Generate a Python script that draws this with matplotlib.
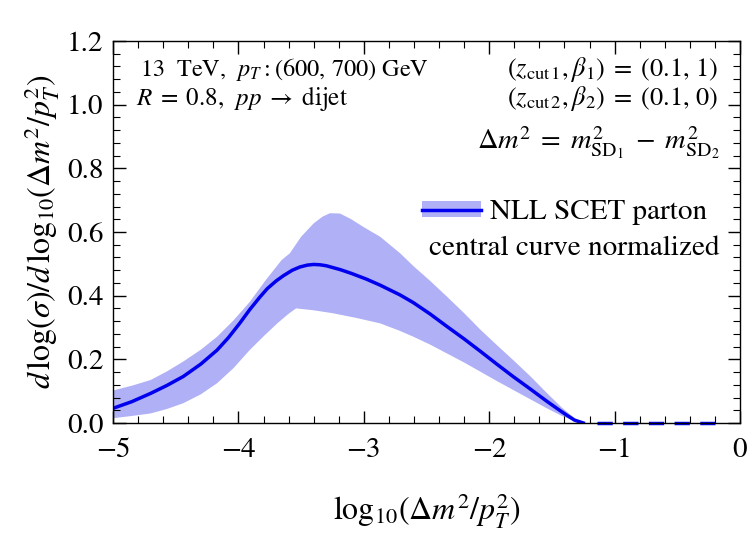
"""NLL SCET parton distribution of the soft-drop mass difference"""
import matplotlib
matplotlib.use("Agg")
import matplotlib.pyplot as plt
from matplotlib.patches import Patch
from matplotlib.lines import Line2D
from matplotlib.ticker import MultipleLocator, FormatStrFormatter

plt.rcParams["font.family"] = "STIXGeneral"
plt.rcParams["mathtext.fontset"] = "stix"

# central curve
x_c = [-5.0, -4.85, -4.70, -4.57, -4.44, -4.30, -4.17, -4.08, -3.99, -3.91,
       -3.83, -3.77, -3.70, -3.64, -3.57, -3.51, -3.45, -3.40, -3.35, -3.30,
       -3.19, -3.10, -2.98, -2.87, -2.71, -2.605, -2.47, -2.34, -2.20, -2.07,
       -1.94, -1.81, -1.67, -1.54, -1.45, -1.38, -1.32, -1.25]
y_c = [0.046, 0.067, 0.093, 0.118, 0.146, 0.185, 0.229, 0.268, 0.313, 0.356,
       0.395, 0.422, 0.446, 0.463, 0.480, 0.490, 0.496, 0.498, 0.497, 0.494,
       0.482, 0.470, 0.452, 0.433, 0.402, 0.378, 0.342, 0.304, 0.264, 0.225,
       0.185, 0.146, 0.106, 0.068, 0.043, 0.024, 0.009, 0.0]

# uncertainty band edges
x_up = [-5.0, -4.85, -4.70, -4.57, -4.44, -4.30, -4.17, -4.04, -3.91, -3.78,
        -3.655, -3.59, -3.50, -3.40, -3.33, -3.27, -3.19, -3.10, -3.0, -2.87,
        -2.71, -2.605, -2.47, -2.34, -2.20, -2.07, -1.94, -1.81, -1.67, -1.54,
        -1.42, -1.30, -1.25]
y_up = [0.102, 0.117, 0.135, 0.162, 0.193, 0.230, 0.271, 0.322, 0.380, 0.450,
        0.512, 0.533, 0.585, 0.627, 0.648, 0.659, 0.658, 0.640, 0.615, 0.585,
        0.533, 0.493, 0.446, 0.398, 0.345, 0.293, 0.245, 0.198, 0.146, 0.094,
        0.048, 0.009, 0.0]
x_lo = [-5.0, -4.85, -4.70, -4.57, -4.44, -4.30, -4.17, -4.04, -3.91, -3.80,
        -3.69, -3.60, -3.54, -3.40, -3.25, -3.06, -2.87, -2.71, -2.605, -2.47,
        -2.34, -2.20, -2.07, -1.94, -1.81, -1.67, -1.54, -1.42, -1.30, -1.25]
y_lo = [0.015, 0.022, 0.030, 0.044, 0.062, 0.090, 0.125, 0.172, 0.229, 0.272,
        0.313, 0.343, 0.360, 0.354, 0.345, 0.330, 0.313, 0.289, 0.271, 0.246,
        0.219, 0.190, 0.161, 0.132, 0.104, 0.074, 0.046, 0.022, 0.004, 0.0]

# zero continuation (dashed)
x_zero = [-1.14, -0.2]
y_zero = [0.0, 0.0]

blue = "#0000ee"
band = "#b0b0f6"

fig = plt.figure(figsize=(7.5, 5.38), dpi=100)
ax = fig.add_axes([0.1507, 0.2138, 0.836, 0.71])

ax.fill(x_up + x_lo[::-1], y_up + y_lo[::-1], color=band, lw=0)
ax.plot(x_c, y_c, color=blue, lw=2.5, solid_joinstyle="round")
ax.plot(x_zero, y_zero, color=blue, lw=2.5, linestyle=(0, (4.4, 3)),
        clip_on=False)

ax.set_xlim(-5, 0)
ax.set_ylim(0, 1.2)
ax.xaxis.set_major_locator(MultipleLocator(1))
ax.xaxis.set_minor_locator(MultipleLocator(0.2))
ax.yaxis.set_major_locator(MultipleLocator(0.2))
ax.yaxis.set_minor_locator(MultipleLocator(0.04))
ax.yaxis.set_major_formatter(FormatStrFormatter("%.1f"))
ax.tick_params(which="both", direction="in", top=True, right=True,
               labelsize=21)
ax.tick_params(axis="x", pad=11)
ax.tick_params(axis="y", pad=7)
ax.tick_params(which="major", length=9, width=1)
ax.tick_params(which="minor", length=5, width=0.8)
for s in ax.spines.values():
    s.set_linewidth(1)

ax.set_xlabel(r"$\mathrm{log}_{10}(\Delta m^2/p_T^2)$", fontsize=23, labelpad=20)
ax.set_ylabel(r"$d\,\mathrm{log}(\sigma)/d\,\mathrm{log}_{10}(\Delta m^2/p_T^2)$",
              fontsize=23, labelpad=4)

fs = 17.5
ax.text(0.043, 0.925, r"13  TeV,  $p_T:(600,\,700)$ GeV", transform=ax.transAxes,
        fontsize=fs, va="center")
ax.text(0.036, 0.850, r"$R\;=\;$0.8,  $pp\;\rightarrow\;$dijet",
        transform=ax.transAxes, fontsize=fs + 0.5, va="center")
ax.text(0.965, 0.925, r"$(z_{\mathrm{cut}\,1},\beta_1)\;=\;(0.1,\,1)$",
        transform=ax.transAxes, fontsize=19, va="center", ha="right")
ax.text(0.965, 0.850, r"$(z_{\mathrm{cut}\,2},\beta_2)\;=\;(0.1,\,0)$",
        transform=ax.transAxes, fontsize=19, va="center", ha="right")
ax.text(0.967, 0.735, r"$\Delta m^2\;=\;m^2_{\mathrm{SD}_1}\;-\;m^2_{\mathrm{SD}_2}$",
        transform=ax.transAxes, fontsize=20.5, va="center", ha="right")

handle = (Patch(facecolor=band, edgecolor="none"), Line2D([], [], color=blue, lw=2.5))
ax.legend([handle], ["NLL SCET parton"], loc="center right",
          bbox_to_anchor=(0.97, 0.55), frameon=False, fontsize=21,
          handlelength=2.0, handleheight=0.45, handletextpad=0.3, borderpad=0)
ax.text(0.967, 0.458, "central curve normalized", transform=ax.transAxes,
        fontsize=21, va="center", ha="right")

fig.savefig("out.png", dpi=100)
